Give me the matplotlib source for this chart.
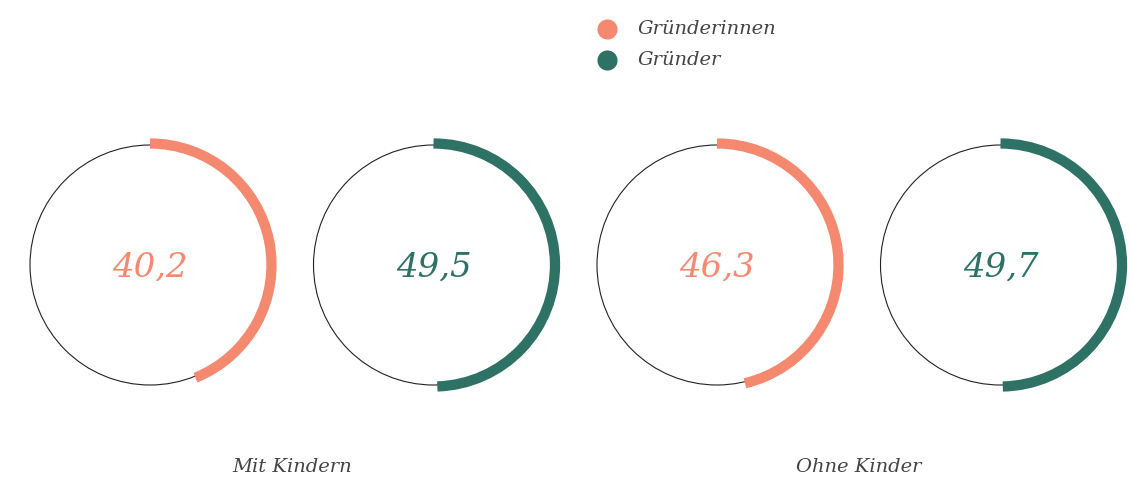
import matplotlib
matplotlib.use("Agg")
import matplotlib.pyplot as plt
from matplotlib.patches import Circle, Arc

groups = ["Mit Kindern", "Ohne Kinder"]
series = ["Gründerinnen", "Gründer"]
# labelled values
gruenderinnen = [40.2, 46.3]
gruender = [49.5, 49.7]
# share of the ring filled by the arc (percent)
gruenderinnen_arc = [43.9, 46.3]
gruender_arc = [49.5, 49.7]
colors = {"Gründerinnen": "#F4896F", "Gründer": "#2D7265"}

W, H = 1132, 478
fig = plt.figure(figsize=(W / 100, H / 100), dpi=100)
ax = fig.add_axes([0, 0, 1, 1])
ax.set_xlim(0, W)
ax.set_ylim(0, H)
ax.set_aspect("equal")
ax.axis("off")

FONT = "DejaVu Serif"
R = 120
cy = H - 265
x0, step = 150, 283.5

def fmt(v):
    return f"{v:.1f}".replace(".", ",")

for gi, g in enumerate(groups):
    vals = {"Gründerinnen": gruenderinnen[gi], "Gründer": gruender[gi]}
    arcs = {"Gründerinnen": gruenderinnen_arc[gi], "Gründer": gruender_arc[gi]}
    for si, s in enumerate(series):
        cx = x0 + step * (gi * 2 + si)
        v = vals[s]
        a = arcs[s]
        ax.add_patch(Circle((cx, cy), R, fill=False, ec="#222222", lw=0.8))
        ax.add_patch(Arc((cx, cy), 2 * (R + 1.5), 2 * (R + 1.5), theta1=90 - 360 * a / 100,
                         theta2=90, color=colors[s], lw=7.4, capstyle="butt"))
        ax.text(cx, cy - 2.5, fmt(v), ha="center", va="center", color=colors[s],
                fontsize=24.5, family=FONT, style="italic")
    mx = x0 + step * (gi * 2 + 0.5)
    ax.text(mx, H - 467, g, ha="center", va="center", color="#444444",
            fontsize=14, family=FONT, style="italic")

for si, s in enumerate(series):
    ly = H - (29 + 31 * si)
    ax.scatter([607], [ly], s=210, color=colors[s], lw=0)
    ax.text(638, ly, s, ha="left", va="center", color="#444444",
            fontsize=14, family=FONT, style="italic")

fig.savefig("out.png", dpi=100)
